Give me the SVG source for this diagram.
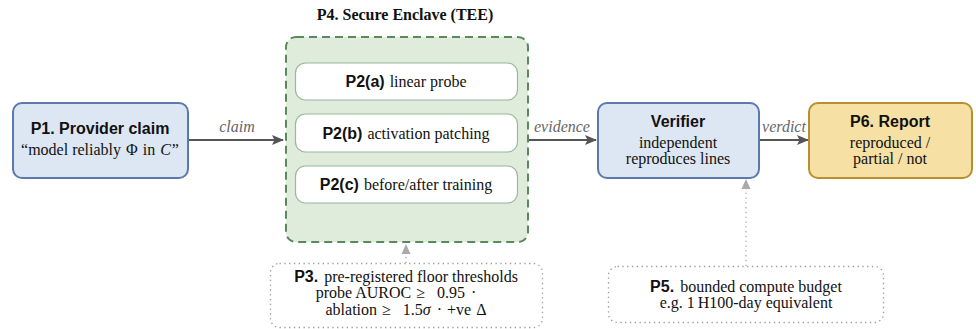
<svg xmlns="http://www.w3.org/2000/svg" width="976" height="329" viewBox="0 0 976 329">
<style>
text{font-family:"Liberation Serif","Times New Roman",serif;font-size:16px;fill:#111}
.sb{font-family:"Liberation Sans",Arial,sans-serif;font-weight:bold}
.lab{font-style:italic;fill:#666}
.edge{stroke:#555;stroke-width:2;fill:none}
.dot{stroke:#aaa;stroke-width:1.3;stroke-dasharray:1.3 3.5;fill:none}
.inner{fill:#fff;stroke:#98b898;stroke-width:1.2}
.note{fill:#fff;stroke:#999;stroke-width:1.3;stroke-dasharray:1.3 3.5}
</style>
<defs>
<marker id="ah" viewBox="0 0 12 10" refX="11" refY="5" markerWidth="12" markerHeight="10" markerUnits="userSpaceOnUse" orient="auto">
<path d="M0,0 L12,5 L0,10 L2.5,5 Z" fill="#555"/>
</marker>
<marker id="ahg" viewBox="0 0 10 10" refX="9" refY="5" markerWidth="10" markerHeight="10" markerUnits="userSpaceOnUse" orient="auto">
<path d="M0,0.5 L10,5 L0,9.5 Z" fill="#aaa"/>
</marker>
</defs>
<rect width="976" height="329" fill="#fff"/>

<g id="connectors">
<line class="edge" x1="189" y1="140" x2="283" y2="140" marker-end="url(#ah)"/>
<text class="lab" x="237" y="132" text-anchor="middle">claim</text>
<line class="edge" x1="529" y1="140" x2="596" y2="140" marker-end="url(#ah)"/>
<text class="lab" x="562" y="132" text-anchor="middle">evidence</text>
<line class="edge" x1="760" y1="140" x2="808" y2="140" marker-end="url(#ah)"/>
<text class="lab" x="784" y="132" text-anchor="middle">verdict</text>
<line class="dot" x1="406" y1="263" x2="406" y2="245" marker-end="url(#ahg)"/>
<line class="dot" x1="746" y1="266" x2="746" y2="180" marker-end="url(#ahg)"/>
</g>

<g id="P1">
<rect x="13" y="103" width="175" height="75" rx="9" fill="#dde7f3" stroke="#5b79ac" stroke-width="2"/>
<text class="sb" x="100" y="134" text-anchor="middle">P1. Provider claim</text>
<text x="100" y="155" text-anchor="middle">“model reliably<tspan dx="5">Φ</tspan><tspan dx="5">in</tspan><tspan dx="5" font-style="italic">C</tspan><tspan dx="1">”</tspan></text>
</g>

<g id="P4">
<text x="405" y="20" text-anchor="middle" font-weight="bold">P4. Secure Enclave (TEE)</text>
<rect x="286" y="37" width="242" height="205" rx="10" fill="#dfebdb" stroke="#5a8a5c" stroke-width="2" stroke-dasharray="8 5"/>
</g>

<g id="P2a">
<rect class="inner" x="295.5" y="63" width="222" height="37" rx="10"/>
<text x="406" y="87" text-anchor="middle"><tspan class="sb">P2(a)</tspan><tspan dx="5">linear probe</tspan></text>
</g>
<g id="P2b">
<rect class="inner" x="295.5" y="114" width="222" height="38" rx="10"/>
<text x="406" y="139" text-anchor="middle"><tspan class="sb">P2(b)</tspan><tspan dx="5">activation patching</tspan></text>
</g>
<g id="P2c">
<rect class="inner" x="295.5" y="166" width="222" height="37" rx="10"/>
<text x="406" y="190" text-anchor="middle"><tspan class="sb">P2(c)</tspan><tspan dx="5">before/after training</tspan></text>
</g>

<g id="P3">
<rect class="note" x="270.5" y="263.5" width="272" height="64" rx="9"/>
<text x="406" y="282" text-anchor="middle"><tspan class="sb">P3.</tspan><tspan dx="6">pre-registered floor thresholds</tspan></text>
<text x="396" y="298" text-anchor="middle">probe AUROC<tspan dx="5">≥</tspan><tspan dx="12">0.95</tspan><tspan dx="6">·</tspan></text>
<text x="406" y="315" text-anchor="middle">ablation<tspan dx="5">≥</tspan><tspan dx="12">1.5</tspan><tspan font-style="italic">σ</tspan><tspan dx="6">·</tspan><tspan dx="5">+ve</tspan><tspan dx="5">Δ</tspan></text>
</g>

<g id="Verifier">
<rect x="598" y="103" width="161" height="75" rx="9" fill="#dde7f3" stroke="#5b79ac" stroke-width="2"/>
<text class="sb" x="678" y="127" text-anchor="middle">Verifier</text>
<text x="678" y="148" text-anchor="middle">independent</text>
<text x="678" y="164" text-anchor="middle">reproduces lines</text>
</g>

<g id="P6">
<rect x="809" y="103" width="163" height="75" rx="9" fill="#f6e0a4" stroke="#b98f2f" stroke-width="2"/>
<text class="sb" x="890" y="127" text-anchor="middle">P6. Report</text>
<text x="890" y="148" text-anchor="middle">reproduced /</text>
<text x="890" y="164" text-anchor="middle">partial / not</text>
</g>

<g id="P5">
<rect class="note" x="608.5" y="266.5" width="275" height="56" rx="9"/>
<text x="746" y="292" text-anchor="middle"><tspan class="sb">P5.</tspan><tspan dx="6">bounded compute budget</tspan></text>
<text x="746" y="308" text-anchor="middle">e.g. 1<tspan dx="3">H100-day equivalent</tspan></text>
</g>
</svg>
